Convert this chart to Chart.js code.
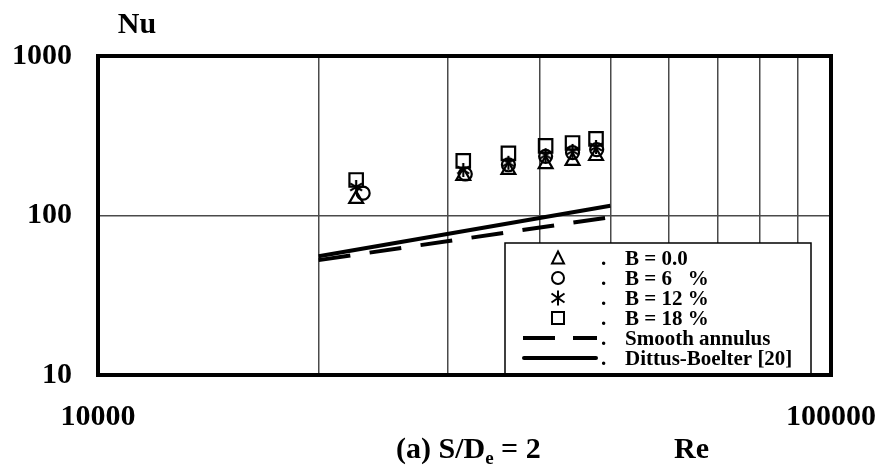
<!DOCTYPE html>
<html><head><meta charset="utf-8">
<script src="https://cdn.jsdelivr.net/npm/chart.js@4"></script>
<style>html,body{margin:0;padding:0;background:#fff}#wrap{width:883px;height:465px;position:relative}</style>
</head><body><div id="wrap"><canvas id="c"></canvas></div>
<script>
// ---- data ----
const seriesLabels = ['B = 0.0', 'B = 6   %', 'B = 12 %', 'B = 18 %'];
const lineLabels = ['Smooth annulus', 'Dittus-Boelter [20]'];
const reB0  = [22500, 31500, 36300, 40800, 44400, 47800];
const nuB0  = [127, 177, 193, 210, 220, 236];
const reB6  = [23000, 31700, 36300, 40800, 44400, 47900];
const nuB6  = [138, 182, 208, 235, 248, 259];
const reB12 = [22500, 31500, 36300, 40800, 44400, 47800];
const nuB12 = [151, 193, 214, 239, 254, 269];
const reB18 = [22500, 31500, 36300, 40800, 44400, 47800];
const nuB18 = [167, 220, 245, 273, 285, 302];
const reSmooth = [20000, 49500];
const nuSmooth = [52.5, 97];
const reDB = [20000, 50000];
const nuDB = [55.5, 115];
const xGridValues = [10000, 20000, 30000, 40000, 50000, 60000, 70000, 80000, 90000, 100000];
const xTickLabels = [10000, 100000];
const yTickLabels = [10, 100, 1000];
const yAxisTitle = 'Nu';
const xAxisTitle = 'Re';
const captionMain = '(a) S/D';
const captionSub = 'e';
const captionEnd = ' = 2';

const FONT = "'Liberation Serif', 'Times New Roman', serif";

function pts(xs, ys) { return xs.map((x, i) => ({ x: x, y: ys[i] })); }

// custom asterisk marker (vertical bar + X)
function makeStar(size, lw) {
  const c = document.createElement('canvas');
  c.width = size; c.height = size;
  const g = c.getContext('2d');
  g.strokeStyle = '#000'; g.lineWidth = lw; g.lineCap = 'butt';
  const m = size / 2, r = size / 2 - 1;
  g.beginPath();
  g.moveTo(m, m - r); g.lineTo(m, m + r);
  const d = r * 0.85;
  g.moveTo(m - d, m - d * 0.6); g.lineTo(m + d, m + d * 0.6);
  g.moveTo(m - d, m + d * 0.6); g.lineTo(m + d, m - d * 0.6);
  g.stroke();
  return c;
}
const starImg = makeStar(16, 2.2);

const datasets = [
  { label: lineLabels[0], data: pts(reSmooth, nuSmooth), showLine: true, borderColor: '#000', borderWidth: 4, borderDash: [32, 19.5], pointRadius: 0, order: 5 },
  { label: lineLabels[1], data: pts(reDB, nuDB), showLine: true, borderColor: '#000', borderWidth: 4, pointRadius: 0, order: 6 },
  { label: seriesLabels[0], data: pts(reB0, nuB0), showLine: false, pointStyle: 'triangle', pointRadius: 8, borderColor: '#000', backgroundColor: 'rgba(0,0,0,0)', pointBorderWidth: 2.2, order: 4 },
  { label: seriesLabels[1], data: pts(reB6, nuB6), showLine: false, pointStyle: 'circle', pointRadius: 6.5, borderColor: '#000', backgroundColor: 'rgba(0,0,0,0)', pointBorderWidth: 2.2, order: 3 },
  { label: seriesLabels[2], data: pts(reB12, nuB12), showLine: false, pointStyle: starImg, pointRadius: 8, borderColor: '#000', backgroundColor: 'rgba(0,0,0,0)', order: 2 },
  { label: seriesLabels[3], data: pts(reB18, nuB18), showLine: false, pointStyle: 'rect', pointRadius: 9.5, borderColor: '#000', backgroundColor: 'rgba(0,0,0,0)', pointBorderWidth: 2.2, order: 1 }
];

function drawLegendMarker(ctx, kind, x, y) {
  ctx.save();
  ctx.strokeStyle = '#000'; ctx.lineWidth = 2;
  ctx.beginPath();
  if (kind === 0) {
    ctx.moveTo(x, y - 6.5); ctx.lineTo(x + 6, y + 5.5); ctx.lineTo(x - 6, y + 5.5); ctx.closePath();
  } else if (kind === 1) {
    ctx.arc(x, y, 6, 0, Math.PI * 2);
  } else if (kind === 2) {
    ctx.moveTo(x, y - 7.5); ctx.lineTo(x, y + 7.5);
    ctx.moveTo(x - 6.5, y - 4.5); ctx.lineTo(x + 6.5, y + 4.5);
    ctx.moveTo(x - 6.5, y + 4.5); ctx.lineTo(x + 6.5, y - 4.5);
  } else {
    ctx.rect(x - 6, y - 6, 12, 12);
  }
  ctx.stroke();
  ctx.restore();
}

const decorPlugin = {
  id: 'decor',
  afterDatasetsDraw(chart) {
    const ctx = chart.ctx;
    const ca = chart.chartArea;
    // legend box
    const bx = 505, by = 243, bw = 306, bh = ca.bottom - 243;
    ctx.save();
    ctx.fillStyle = '#fff';
    ctx.fillRect(bx, by, bw, bh);
    ctx.strokeStyle = '#000'; ctx.lineWidth = 1.5;
    ctx.strokeRect(bx, by, bw, bh);
    const labels = seriesLabels.concat(lineLabels);
    ctx.font = 'bold 21px ' + FONT;
    ctx.fillStyle = '#000';
    ctx.textBaseline = 'alphabetic';
    for (let i = 0; i < labels.length; i++) {
      const ry = 258 + i * 20;
      if (i < 4) drawLegendMarker(ctx, i, 558, ry);
      else if (i === 4) {
        ctx.save(); ctx.strokeStyle = '#000'; ctx.lineWidth = 4;
        ctx.beginPath(); ctx.moveTo(523, ry); ctx.lineTo(555, ry); ctx.moveTo(573, ry); ctx.lineTo(597, ry); ctx.stroke(); ctx.restore();
      } else {
        ctx.save(); ctx.strokeStyle = '#000'; ctx.lineWidth = 4; ctx.lineCap = 'round';
        ctx.beginPath(); ctx.moveTo(524, ry); ctx.lineTo(596, ry); ctx.stroke(); ctx.restore();
      }
      ctx.fillText('.', 601, ry + 7);
      ctx.fillText(labels[i], 625, ry + 7);
    }
    ctx.restore();
  },
  afterDraw(chart) {
    const ctx = chart.ctx;
    const ca = chart.chartArea;
    ctx.save();
    ctx.strokeStyle = '#000'; ctx.lineWidth = 4;
    ctx.strokeRect(ca.left, ca.top, ca.right - ca.left, ca.bottom - ca.top);
    ctx.fillStyle = '#000';
    ctx.font = 'bold 30px ' + FONT;
    ctx.textBaseline = 'alphabetic';
    ctx.textAlign = 'center';
    ctx.fillText(yAxisTitle, 137, 33);
    ctx.textAlign = 'left';
    ctx.fillText(xAxisTitle, 674, 458);
    // caption with subscript
    let x0 = 396;
    const base = 458;
    ctx.fillText(captionMain, x0, base);
    x0 += ctx.measureText(captionMain).width;
    ctx.font = 'bold 19px ' + FONT;
    ctx.fillText(captionSub, x0, base + 6);
    x0 += ctx.measureText(captionSub).width;
    ctx.font = 'bold 30px ' + FONT;
    ctx.fillText(captionEnd, x0, base);
    ctx.restore();
  }
};

new Chart(document.getElementById('c'), {
  type: 'scatter',
  data: { datasets: datasets },
  options: {
    responsive: true, maintainAspectRatio: false, animation: false, devicePixelRatio: 1,
    layout: { padding: { left: 0, right: 52, top: 56, bottom: 0 } },
    plugins: { legend: { display: false }, tooltip: { enabled: false } },
    scales: {
      x: {
        type: 'logarithmic', min: 10000, max: 100000,
        afterBuildTicks: (s) => { s.ticks = xGridValues.map(v => ({ value: v })); },
        afterFit: (s) => { s.height = 90; s.paddingLeft = 0; s.paddingRight = 0; },
        ticks: {
          autoSkip: false, maxRotation: 0, minRotation: 0, padding: 24,
          color: '#000', font: { family: FONT, size: 30, weight: 'bold' },
          callback: (v) => xTickLabels.includes(v) ? String(v) : ''
        },
        grid: { color: '#4a4a4a', lineWidth: 1.5, drawTicks: false },
        border: { display: false }
      },
      y: {
        type: 'logarithmic', min: 10, max: 1000,
        afterBuildTicks: (s) => { s.ticks = yTickLabels.map(v => ({ value: v })); },
        afterFit: (s) => { s.width = 98; s.paddingTop = 0; s.paddingBottom = 0; },
        ticks: {
          padding: 26, color: '#000', font: { family: FONT, size: 30, weight: 'bold' },
          callback: (v) => yTickLabels.includes(v) ? String(v) : ''
        },
        grid: { color: '#4a4a4a', lineWidth: 1.5, drawTicks: false },
        border: { display: false }
      }
    }
  },
  plugins: [decorPlugin]
});
</script>
</body></html>
